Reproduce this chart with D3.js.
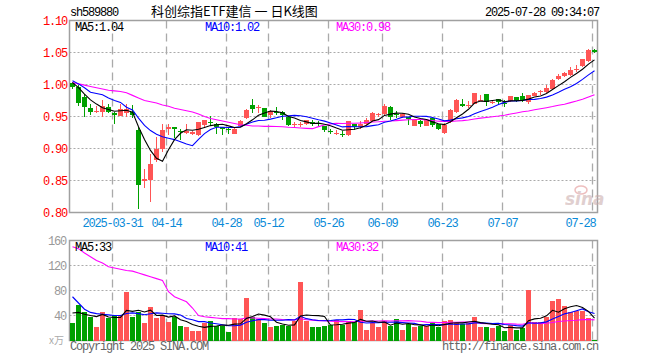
<!DOCTYPE html>
<html>

<head>
  <title>科创综指ETF建信 日K线图</title>
  <meta charset="utf-8" />
  <script src="https://d3js.org/d3.v7.min.js"></script>
  <style>
    body { margin: 0; background: #fff; }
  </style>
</head>

<body>
  <div id="chart"></div>
  <script type="text/javascript">

    // trading days shown (2025)
    var dates = ["03-20", "03-21", "03-24", "03-25", "03-26", "03-27", "03-28", "03-31", "04-01", "04-02",
      "04-03", "04-07", "04-08", "04-09", "04-10", "04-11", "04-14", "04-15", "04-16", "04-17",
      "04-18", "04-21", "04-22", "04-23", "04-24", "04-25", "04-28", "04-29", "04-30", "05-06",
      "05-07", "05-08", "05-09", "05-12", "05-13", "05-14", "05-15", "05-16", "05-19", "05-20",
      "05-21", "05-22", "05-23", "05-26", "05-27", "05-28", "05-29", "05-30", "06-03", "06-04",
      "06-05", "06-06", "06-09", "06-10", "06-11", "06-12", "06-13", "06-16", "06-17", "06-18",
      "06-19", "06-20", "06-23", "06-24", "06-25", "06-26", "06-27", "06-30", "07-01", "07-02",
      "07-03", "07-04", "07-07", "07-08", "07-09", "07-10", "07-11", "07-14", "07-15", "07-16",
      "07-17", "07-18", "07-21", "07-22", "07-23", "07-24", "07-25", "07-28"];

    var opens = [1.002, 0.996, 0.981, 0.964, 0.957, 0.957, 0.965, 0.955, 0.951, 0.956,
      0.957, 0.929, 0.850, 0.851, 0.882, 0.899, 0.930, 0.934, 0.928, 0.925,
      0.923, 0.921, 0.936, 0.942, 0.939, 0.933, 0.931, 0.923, 0.935, 0.947,
      0.968, 0.9645, 0.963, 0.952, 0.957, 0.957, 0.949, 0.937, 0.937, 0.939,
      0.942, 0.9395, 0.935, 0.928, 0.924, 0.923, 0.921, 0.939, 0.934, 0.939,
      0.943, 0.953, 0.954, 0.9645, 0.9535, 0.950, 0.949, 0.935, 0.943, 0.935,
      0.947, 0.938, 0.925, 0.942, 0.957, 0.970, 0.967, 0.970, 0.975, 0.985,
      0.9725, 0.977, 0.9718, 0.974, 0.980, 0.982, 0.973, 0.982, 0.989, 0.9885,
      0.993, 1.008, 1.013, 1.0145, 1.0245, 1.029, 1.037, 1.054];
    var highs = [1.004, 0.999, 0.985, 0.970, 0.966, 0.976, 0.970, 0.957, 0.970, 0.970,
      0.968, 0.934, 0.868, 0.892, 0.918, 0.938, 0.939, 0.934, 0.930, 0.939,
      0.928, 0.942, 0.945, 0.951, 0.940, 0.933, 0.932, 0.932, 0.944, 0.961,
      0.977, 0.968, 0.963, 0.960, 0.965, 0.958, 0.950, 0.942, 0.942, 0.945,
      0.944, 0.943, 0.935, 0.931, 0.929, 0.928, 0.943, 0.939, 0.943, 0.947,
      0.957, 0.955, 0.970, 0.966, 0.958, 0.956, 0.950, 0.945, 0.944, 0.945,
      0.949, 0.9385, 0.940, 0.961, 0.977, 0.978, 0.974, 0.9875, 0.984, 0.985,
      0.9765, 0.978, 0.9755, 0.9825, 0.980, 0.986, 0.984, 0.988, 0.991, 0.999,
      1.008, 1.016, 1.020, 1.0275, 1.031, 1.040, 1.055, 1.055];
    var lows = [0.993, 0.967, 0.949, 0.953, 0.955, 0.949, 0.955, 0.939, 0.951, 0.949,
      0.948, 0.806, 0.838, 0.817, 0.879, 0.895, 0.921, 0.916, 0.914, 0.923,
      0.921, 0.920, 0.934, 0.936, 0.923, 0.921, 0.922, 0.922, 0.934, 0.946,
      0.956, 0.955, 0.949, 0.948, 0.952, 0.945, 0.935, 0.933, 0.933, 0.936,
      0.935, 0.935, 0.926, 0.923, 0.921, 0.918, 0.919, 0.929, 0.931, 0.936,
      0.942, 0.949, 0.952, 0.944, 0.947, 0.948, 0.936, 0.9345, 0.934, 0.9345,
      0.934, 0.929, 0.923, 0.940, 0.956, 0.9645, 0.9635, 0.969, 0.974, 0.966,
      0.970, 0.968, 0.965, 0.973, 0.973, 0.973, 0.970, 0.9815, 0.984, 0.9875,
      0.992, 1.007, 1.012, 1.0135, 1.019, 1.0275, 1.035, 1.050];
    var closes = [0.996, 0.971, 0.965, 0.957, 0.958, 0.967, 0.957, 0.952, 0.961, 0.962,
      0.952, 0.843, 0.852, 0.876, 0.900, 0.929, 0.934, 0.930, 0.926, 0.927,
      0.926, 0.941, 0.944, 0.941, 0.933, 0.930, 0.929, 0.931, 0.943, 0.960,
      0.961, 0.965, 0.949, 0.958, 0.955, 0.952, 0.936, 0.938, 0.938, 0.944,
      0.939, 0.939, 0.929, 0.9275, 0.925, 0.922, 0.943, 0.933, 0.939, 0.945,
      0.955, 0.9535, 0.966, 0.949, 0.953, 0.954, 0.946, 0.944, 0.938, 0.944,
      0.936, 0.931, 0.9375, 0.960, 0.9755, 0.966, 0.9675, 0.986, 0.9755, 0.973,
      0.973, 0.973, 0.9713, 0.982, 0.974, 0.9755, 0.983, 0.9875, 0.9895, 0.994,
      1.007, 1.0135, 1.018, 1.023, 1.025, 1.0395, 1.054, 1.051];

    // volume in 万手
    var volumes = [27.7, 57.6, 45.3, 38.4, 22.4, 45.3, 36.3, 41.1, 40, 78.4,
      37.3, 45.3, 27.7, 54.4, 35.7, 40, 29.3, 37.3, 24, 21.3,
      16, 16, 27.7, 32, 24, 24, 14.4, 36.3, 34.7, 67.7,
      38.4, 34.7, 27.7, 21.3, 24, 24.5, 24, 30.9, 93.3, 30.9,
      21.3, 22.4, 24, 25, 33.1, 25, 32, 29.3, 49.6, 17.6,
      27.7, 21.3, 32, 24, 35.2, 17.6, 26.7, 22.4, 23, 24,
      27.7, 21.3, 32, 33.6, 27.7, 26.7, 27.7, 38.4, 22.4, 21.3,
      19.7, 24, 14.9, 25, 17.6, 19.7, 81.6, 29.3, 29.3, 37.3,
      64, 66.7, 56, 45.3, 48, 48, 35.7, 1.6];

    var ma5Head = [1.003, 0.995, 0.985, 0.976];
    var ma10Head = [1.006, 1.001, 0.995, 0.988, 0.986, 0.984, 0.979, 0.975, 0.972];
    var ma30Head = [1.003, 1.001, 0.999, 0.997, 0.995, 0.993, 0.991, 0.990, 0.989, 0.987,
      0.983, 0.979, 0.975, 0.973, 0.971, 0.968, 0.966, 0.963, 0.961, 0.959,
      0.957, 0.954, 0.950, 0.947, 0.945, 0.943, 0.941, 0.939, 0.937];
    var volMa5Head = [44, 45, 42, 40];
    var volMa10Head = [70, 60, 50, 45, 43, 42, 41, 40, 40];
    var volMa30Head = [150, 147, 140, 134, 128, 124, 118, 116, 114, 112,
      111, 108, 105, 102, 99, 96, 78, 70, 66, 62,
      52, 40, 38, 37, 36, 35, 35, 34.5, 34.5];

    var priceTicks = [0.80, 0.85, 0.90, 0.95, 1.00, 1.05, 1.10];
    var volTicks = [40, 80, 120, 160];
    var tickDates = ["03-31", "04-14", "04-28", "05-12", "05-26", "06-09", "06-23", "07-07", "07-28"];
    var tickLabels = ["2025-03-31", "04-14", "04-28", "05-12", "05-26", "06-09", "06-23", "07-07", "07-28"];
    var priceLegend = ["MA5:1.04", "MA10:1.02", "MA30:0.98"];
    var volLegend = ["MA5:33", "MA10:41", "MA30:32"];
    var maColors = ["#000000", "#0000ff", "#ff00ff"];

    var mono = "'Liberation Mono', 'DejaVu Sans Mono', monospace";
    var red = "#ff5555", green = "#00a000";

    var left = 69.5, right = 597.5;
    var mainTop = 20.5, mainBottom = 212.5;
    var volTop = 240.5, volBottom = 340.5;

    var svg = d3.select("#chart").append("svg")
      .attr("width", 660).attr("height", 360);

    var x = d3.scaleBand().domain(dates).range([left, right]);
    function cx(d) { return x(d) + x.bandwidth() / 2; }
    var y = d3.scaleLinear().domain([0.80, 1.10]).range([mainBottom, mainTop]);
    var yv = d3.scaleLinear().domain([0, 160]).range([volBottom, volTop]);

    function movingAvg(values, n, head) {
      return values.map(function (v, i) {
        if (i < n - 1) return head[i];
        return d3.mean(values.slice(i - n + 1, i + 1));
      });
    }

    /* grid: dotted horizontals, dashed verticals */
    svg.append("g").selectAll("line")
      .data(priceTicks.slice(1, -1))
      .enter().append("line")
      .attr("x1", left).attr("x2", right)
      .attr("y1", function (d) { return y(d); }).attr("y2", function (d) { return y(d); })
      .style("stroke", "#aaa").style("stroke-dasharray", "2,2");
    svg.append("g").selectAll("line")
      .data(volTicks.slice(0, -1))
      .enter().append("line")
      .attr("x1", left).attr("x2", right)
      .attr("y1", function (d) { return yv(d); }).attr("y2", function (d) { return yv(d); })
      .style("stroke", "#aaa").style("stroke-dasharray", "2,2");

    [[mainTop, mainBottom], [volTop, volBottom]].forEach(function (r) {
      svg.append("g").selectAll("line")
        .data(tickDates)
        .enter().append("line")
        .attr("x1", function (d) { return cx(d) - 2; }).attr("x2", function (d) { return cx(d) - 2; })
        .attr("y1", r[0]).attr("y2", r[1])
        .style("stroke", "#aaa").style("stroke-width", 1.3).style("stroke-dasharray", "8,5");
    });

    /* frames */
    [[mainTop, mainBottom], [volTop, volBottom]].forEach(function (r) {
      svg.append("rect")
        .attr("x", left).attr("y", r[0])
        .attr("width", right - left).attr("height", r[1] - r[0])
        .style("fill", "none").style("stroke", "#a0a0a0").style("stroke-width", 1.5);
    });

    /* sina watermark */
    var wm = svg.append("g").style("opacity", 0.55);
    wm.append("ellipse").attr("cx", 581).attr("cy", 190).attr("rx", 6).attr("ry", 4)
      .style("fill", "none").style("stroke", "#e08a8a").style("stroke-width", 1.5);
    wm.append("text").attr("x", 565).attr("y", 205)
      .style("font-family", "'DejaVu Sans', sans-serif").style("font-style", "italic")
      .style("font-weight", "bold").style("font-size", "17px").style("fill", "#c8a8a8")
      .text("sina");

    /* candles */
    var idx = d3.range(dates.length);
    function upColor(i) { return closes[i] >= opens[i] ? red : green; }

    var cg = svg.append("g").attr("shape-rendering", "crispEdges");
    cg.selectAll("line.wick")
      .data(idx)
      .enter().append("line")
      .attr("class", "wick")
      .attr("x1", function (i) { return cx(dates[i]); }).attr("x2", function (i) { return cx(dates[i]); })
      .attr("y1", function (i) { return y(highs[i]); }).attr("y2", function (i) { return y(lows[i]); })
      .style("stroke", upColor);
    cg.selectAll("rect.body")
      .data(idx)
      .enter().append("rect")
      .attr("class", "body")
      .attr("x", function (i) { return cx(dates[i]) - 2.5; })
      .attr("width", 5)
      .attr("y", function (i) { return y(Math.max(opens[i], closes[i])); })
      .attr("height", function (i) {
        return Math.max(1, Math.abs(y(opens[i]) - y(closes[i])));
      })
      .style("fill", upColor);

    /* volume bars */
    svg.append("g").attr("shape-rendering", "crispEdges")
      .selectAll("rect")
      .data(idx)
      .enter().append("rect")
      .attr("x", function (i) { return cx(dates[i]) - 2.5; })
      .attr("width", 5)
      .attr("y", function (i) { return yv(volumes[i]); })
      .attr("height", function (i) { return yv(0) - yv(volumes[i]); })
      .style("fill", upColor);

    /* moving averages */
    var priceMAs = [movingAvg(closes, 5, ma5Head), movingAvg(closes, 10, ma10Head), movingAvg(closes, 30, ma30Head)];
    var volMAs = [movingAvg(volumes, 5, volMa5Head), movingAvg(volumes, 10, volMa10Head), movingAvg(volumes, 30, volMa30Head)];

    var priceLine = d3.line()
      .x(function (d, i) { return cx(dates[i]); })
      .y(function (d) { return y(d); });
    var volLine = d3.line()
      .x(function (d, i) { return cx(dates[i]); })
      .y(function (d) { return yv(d); });

    [2, 1, 0].forEach(function (k) {
      svg.append("path").attr("d", priceLine(priceMAs[k]))
        .style("fill", "none").style("stroke", maColors[k]).style("stroke-width", 1.1);
      svg.append("path").attr("d", volLine(volMAs[k]))
        .style("fill", "none").style("stroke", maColors[k]).style("stroke-width", 1.1);
    });

    /* texts */
    function txt(xp, yp, s, color, anchor, size) {
      return svg.append("text")
        .attr("x", xp).attr("y", yp)
        .attr("text-anchor", anchor || "start")
        .style("font-family", mono).style("font-size", (size || 12) + "px")
        .style("letter-spacing", "-1.2px")
        .style("fill", color).text(s);
    }

    txt(70, 16, "sh589880", "#000");
    svg.append("text").attr("x", 151).attr("y", 16)
      .style("font-family", "'Noto Sans CJK SC', sans-serif").style("font-size", "13px")
      .style("fill", "#000").text("科创综指ETF建信 一 日K线图");
    txt(599, 16, "2025-07-28 09:34:07", "#000", "end");

    var legendX = [75, 205, 336];
    priceLegend.forEach(function (s, k) { txt(legendX[k], 31, s, maColors[k]); });
    volLegend.forEach(function (s, k) { txt(legendX[k], 251, s, maColors[k]); });

    priceTicks.forEach(function (t) {
      txt(67, y(t) + 4, d3.format(".2f")(t), "#ff0000", "end");
    });
    volTicks.forEach(function (t) {
      txt(66, yv(t) + 4, t, "#999", "end");
    });
    svg.append("text").attr("x", 64).attr("y", 344).attr("text-anchor", "end")
      .style("font-family", "'Noto Sans CJK SC', sans-serif").style("font-size", "10px")
      .style("fill", "#aaa").text("x万");

    tickDates.forEach(function (d, k) {
      var last = k === tickDates.length - 1;
      txt(last ? cx(d) + 1 : cx(d) - 2, 227, tickLabels[k], "#0a8ad8", last ? "end" : "middle");
    });

    txt(70, 350, "Copyright 2025 SINA.COM", "#666");
    txt(598, 350, "http://finance.sina.com.cn", "#666", "end");
  </script>
</body>

</html>
